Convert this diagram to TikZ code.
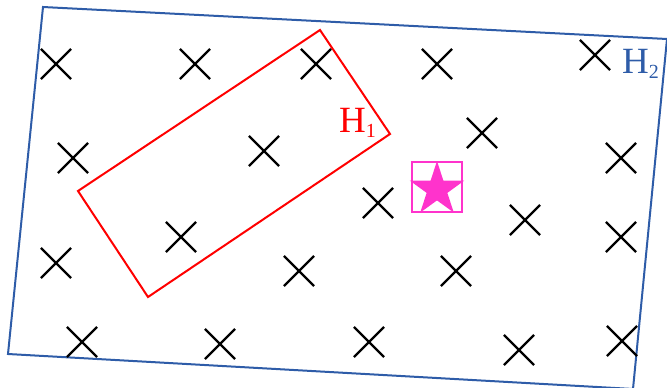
\documentclass[tikz,border=0pt]{standalone}
\usepackage{fontspec}
\setmainfont{Liberation Serif}
\usetikzlibrary{shapes.misc,calc}
\definecolor{hblue}{RGB}{46,92,168}
\definecolor{hred}{RGB}{255,0,0}
\definecolor{hmag}{RGB}{255,51,204}
\tikzset{
  xmark/.style={cross out, draw=black, line width=2.2pt, minimum size=28pt, inner sep=0pt},
  hlabel/.style={inner sep=0pt, anchor=base west, font=\fontsize{37}{37}\selectfont},
}
\newcommand{\subs}[1]{\raisebox{-0.14em}{\fontsize{20}{20}\selectfont #1}}
\begin{document}
\begin{tikzpicture}[x=1pt,y=-1pt]
\useasboundingbox (0,0) rectangle (667,388);
% H2 region
\coordinate (b1) at (43,7);
\coordinate (b2) at (667,39);
\coordinate (b3) at (633,389);
\coordinate (b4) at (8,354);
\draw[hblue, line width=2pt, line join=miter] (b1) -- (b2) -- (b3) -- (b4) -- cycle;
% H1 region
\coordinate (r1) at (320,30);
\coordinate (r2) at (390,134);
\coordinate (r3) at (148,297);
\coordinate (r4) at (78,191);
\draw[hred, line width=2pt] (r1) -- (r2) -- (r3) -- (r4) -- cycle;
% labels
\node[hlabel, text=hred] (l1) at (339,132) {H\subs{1}};
\node[hlabel, text=hblue] (l2) at (622,73) {H\subs{2}};
% crosses
\foreach \n/\x/\y in {1/56/64, 2/195/64, 3/316/64, 4/437/64, 5/595/55,
  6/73/158, 7/264/151, 8/482/133, 9/621/158,
  10/378/203, 11/525/220, 12/621/237, 13/181/237,
  14/56/263, 15/299/271, 16/456/271,
  17/82/342, 18/220/344, 19/369/342, 20/519/350, 21/622/341}
  \node[xmark] (x\n) at (\x,\y) {};
% star and box
\node[draw=hmag, line width=1.5pt, minimum size=50pt, inner sep=0pt] (box) at (437,187) {};
\coordinate (sc) at (437,189.5);
\fill[hmag] ($(sc)+(-90:28.5)$)
  \foreach \k in {0,...,4} {
    -- ($(sc)+(-90+36+72*\k:10.9)$) -- ($(sc)+(-90+72+72*\k:28.5)$)
  } -- cycle;
\end{tikzpicture}
\end{document}
